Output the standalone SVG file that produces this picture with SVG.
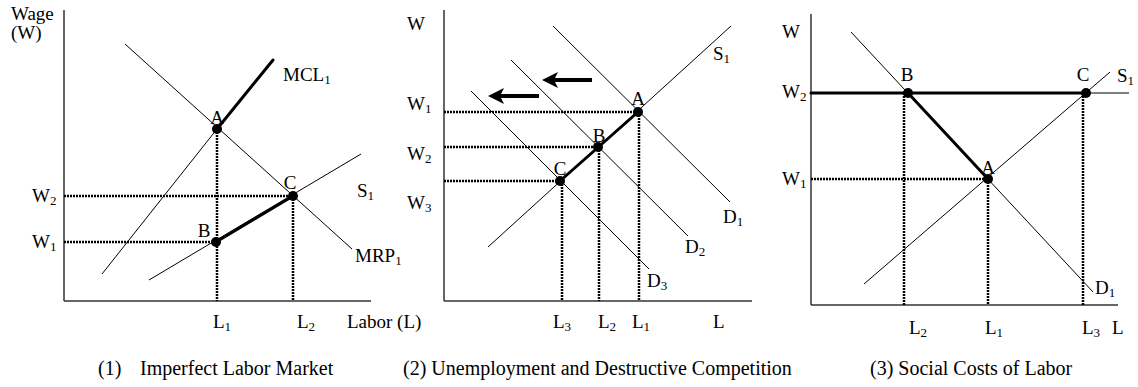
<svg xmlns="http://www.w3.org/2000/svg" width="1138" height="387" viewBox="0 0 1138 387">
<style>
text{font-family:"Liberation Serif","Times New Roman",serif;font-size:19px;fill:#000}
.cap{font-size:20px}
.sub{font-size:13px}
.mid{text-anchor:middle}
.axis{stroke:#333;stroke-width:1.5;fill:none}
.thin{stroke:#000;stroke-width:1;fill:none}
.thick{stroke:#000;stroke-width:3;fill:none;stroke-linecap:round}
.dot{stroke:#000;stroke-width:2.5;stroke-dasharray:2 1;fill:none}
.pt{fill:#000}
.arr{stroke:#000;stroke-width:4;fill:none}
.head{fill:#000}
</style>

<!-- Panel 1 -->
<g id="panel1">
<g id="p1-axes">
<line class="axis" x1="64" y1="10" x2="64" y2="301"/>
<line class="axis" x1="64" y1="301" x2="371" y2="301"/>
</g>
<g id="p1-connectors">
<line class="dot" x1="64" y1="196" x2="293" y2="196"/>
<line class="dot" x1="64" y1="242" x2="216" y2="242"/>
<line class="dot" x1="217" y1="129" x2="217" y2="301"/>
<line class="dot" x1="293" y1="196" x2="293" y2="301"/>
<line class="thin" x1="125" y1="44" x2="352" y2="249"/>
<line class="thin" x1="102" y1="274" x2="217" y2="129"/>
<line class="thin" x1="149" y1="280" x2="361" y2="154"/>
<line class="thick" x1="217" y1="129" x2="273" y2="60"/>
<line class="thick" x1="216" y1="242" x2="293" y2="196"/>
</g>
<g id="p1-A"><circle class="pt" cx="217" cy="129" r="5"/><text class="mid" x="217" y="124">A</text></g>
<g id="p1-B"><circle class="pt" cx="216" cy="242" r="5"/><text class="mid" x="204" y="237">B</text></g>
<g id="p1-C"><circle class="pt" cx="293" cy="196" r="5"/><text class="mid" x="290" y="189">C</text></g>
<g id="p1-labels">
<text x="11" y="20">Wage</text>
<text x="11" y="39">(W)</text>
<text x="32" y="202">W<tspan class="sub" dy="3">2</tspan></text>
<text x="32" y="248">W<tspan class="sub" dy="3">1</tspan></text>
<text x="283" y="81">MCL<tspan class="sub" dy="3">1</tspan></text>
<text x="357" y="197">S<tspan class="sub" dy="3">1</tspan></text>
<text x="355" y="262">MRP<tspan class="sub" dy="3">1</tspan></text>
<text x="213" y="328">L<tspan class="sub" dy="3">1</tspan></text>
<text x="297" y="328">L<tspan class="sub" dy="3">2</tspan></text>
<text x="347" y="328">Labor (L)</text>
<text class="cap" x="98" y="375">(1)<tspan x="140">Imperfect Labor Market</tspan></text>
</g>
</g>

<!-- Panel 2 -->
<g id="panel2">
<g id="p2-axes">
<line class="axis" x1="444" y1="10" x2="444" y2="301"/>
<line class="axis" x1="444" y1="301" x2="752" y2="301"/>
</g>
<g id="p2-connectors">
<line class="dot" x1="444" y1="112" x2="638" y2="112"/>
<line class="dot" x1="444" y1="147" x2="598" y2="147"/>
<line class="dot" x1="444" y1="181" x2="560" y2="181"/>
<line class="dot" x1="639" y1="112" x2="639" y2="301"/>
<line class="dot" x1="599" y1="147" x2="599" y2="301"/>
<line class="dot" x1="562" y1="181" x2="562" y2="301"/>
<line class="thin" x1="553" y1="26" x2="730" y2="202"/>
<line class="thin" x1="511" y1="60" x2="688" y2="236"/>
<line class="thin" x1="471" y1="91" x2="649" y2="269"/>
<line class="thin" x1="488" y1="247" x2="731" y2="26"/>
<line class="thick" x1="560" y1="181" x2="638" y2="112"/>
<g id="shift1"><line class="arr" x1="592" y1="80" x2="553" y2="80"/><path class="head" d="M542,80 L558,72 L554,80 L558,88 Z"/></g>
<g id="shift2"><line class="arr" x1="539" y1="96" x2="499" y2="96"/><path class="head" d="M488,96 L504,88 L500,96 L504,104 Z"/></g>
</g>
<g id="p2-A"><circle class="pt" cx="638" cy="112" r="5"/><text class="mid" x="638" y="105">A</text></g>
<g id="p2-B"><circle class="pt" cx="598" cy="147" r="5"/><text class="mid" x="599" y="142">B</text></g>
<g id="p2-C"><circle class="pt" cx="560" cy="181" r="5"/><text class="mid" x="560" y="175">C</text></g>
<g id="p2-labels">
<text x="407" y="30">W</text>
<text x="407" y="110">W<tspan class="sub" dy="3">1</tspan></text>
<text x="407" y="160">W<tspan class="sub" dy="3">2</tspan></text>
<text x="407" y="209">W<tspan class="sub" dy="3">3</tspan></text>
<text x="713" y="60">S<tspan class="sub" dy="3">1</tspan></text>
<text x="723" y="223">D<tspan class="sub" dy="3">1</tspan></text>
<text x="685" y="253">D<tspan class="sub" dy="3">2</tspan></text>
<text x="647" y="287">D<tspan class="sub" dy="3">3</tspan></text>
<text x="553" y="328">L<tspan class="sub" dy="3">3</tspan></text>
<text x="598" y="328">L<tspan class="sub" dy="3">2</tspan></text>
<text x="632" y="328">L<tspan class="sub" dy="3">1</tspan></text>
<text x="713" y="328">L</text>
<text class="cap" x="403" y="375">(2) Unemployment and Destructive Competition</text>
</g>
</g>

<!-- Panel 3 -->
<g id="panel3">
<g id="p3-axes">
<line class="axis" x1="811" y1="14" x2="811" y2="305"/>
<line class="axis" x1="811" y1="305" x2="1118" y2="305"/>
</g>
<g id="p3-connectors">
<line class="dot" x1="811" y1="179" x2="988" y2="179"/>
<line class="dot" x1="904" y1="93" x2="904" y2="305"/>
<line class="dot" x1="988" y1="179" x2="988" y2="305"/>
<line class="dot" x1="1083" y1="93" x2="1083" y2="305"/>
<line class="thin" x1="851" y1="32" x2="1093" y2="292"/>
<line class="thin" x1="864" y1="284" x2="1110" y2="72"/>
<line class="thin" x1="1086" y1="93" x2="1129" y2="93"/>
<line class="thick" x1="811" y1="93" x2="1086" y2="93"/>
<line class="thick" x1="908" y1="93" x2="988" y2="179"/>
</g>
<g id="p3-B"><circle class="pt" cx="908" cy="93" r="5"/><text class="mid" x="907" y="81">B</text></g>
<g id="p3-C"><circle class="pt" cx="1086" cy="93" r="5"/><text class="mid" x="1083" y="81">C</text></g>
<g id="p3-A"><circle class="pt" cx="988" cy="179" r="5"/><text class="mid" x="988" y="174">A</text></g>
<g id="p3-labels">
<text x="782" y="38">W</text>
<text x="782" y="98">W<tspan class="sub" dy="3">2</tspan></text>
<text x="782" y="185">W<tspan class="sub" dy="3">1</tspan></text>
<text x="1117" y="82">S<tspan class="sub" dy="3">1</tspan></text>
<text x="1095" y="294">D<tspan class="sub" dy="3">1</tspan></text>
<text x="909" y="334">L<tspan class="sub" dy="3">2</tspan></text>
<text x="985" y="334">L<tspan class="sub" dy="3">1</tspan></text>
<text x="1082" y="334">L<tspan class="sub" dy="3">3</tspan></text>
<text x="1112" y="334">L</text>
<text class="cap" x="870" y="375">(3) Social Costs of Labor</text>
</g>
</g>
</svg>
